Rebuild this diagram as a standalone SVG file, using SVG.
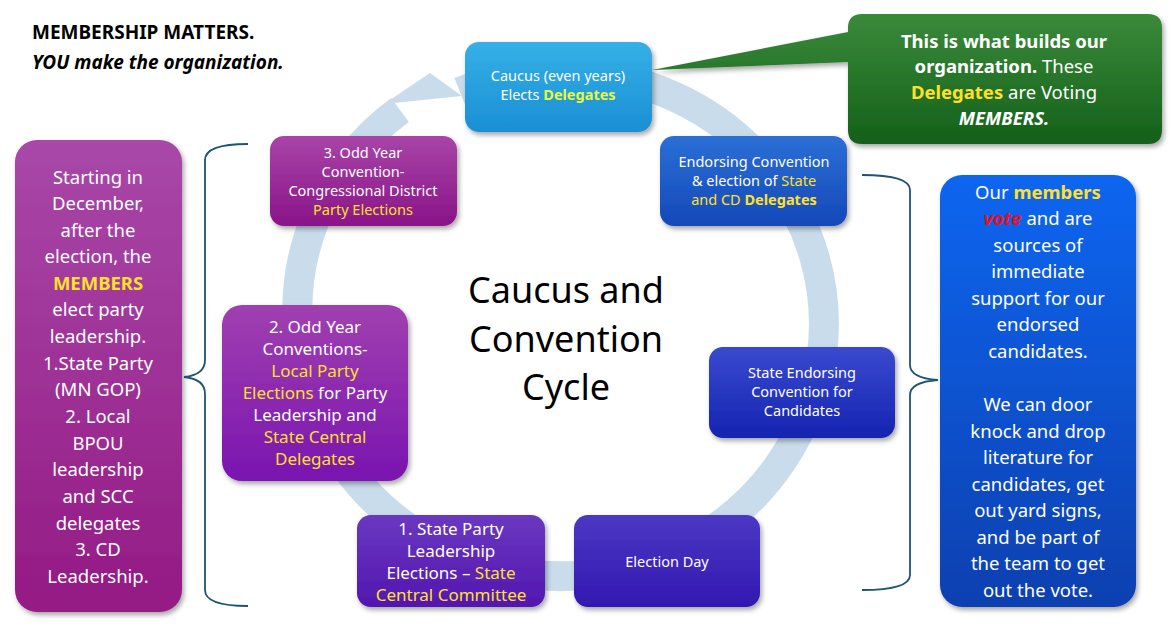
<svg xmlns="http://www.w3.org/2000/svg" width="1171" height="636" viewBox="0 0 1171 636">
<defs>
<linearGradient id="gCau" x1="0" y1="0" x2="0" y2="1"><stop offset="0" stop-color="#35b0e6"/><stop offset="1" stop-color="#1a8fd4"/></linearGradient>
<linearGradient id="gEnd" x1="0" y1="0" x2="0" y2="1"><stop offset="0" stop-color="#2b6fd6"/><stop offset="1" stop-color="#1448b8"/></linearGradient>
<linearGradient id="gSta" x1="0" y1="0" x2="0" y2="1"><stop offset="0" stop-color="#3a4ad0"/><stop offset="1" stop-color="#1424b0"/></linearGradient>
<linearGradient id="gEle" x1="0" y1="0" x2="0" y2="1"><stop offset="0" stop-color="#4a38c4"/><stop offset="1" stop-color="#3318b0"/></linearGradient>
<linearGradient id="gOne" x1="0" y1="0" x2="0" y2="1"><stop offset="0" stop-color="#6a38c0"/><stop offset="1" stop-color="#5216b0"/></linearGradient>
<linearGradient id="gTwo" x1="0" y1="0" x2="0" y2="1"><stop offset="0" stop-color="#a040b0"/><stop offset="1" stop-color="#7a14b0"/></linearGradient>
<linearGradient id="gThr" x1="0" y1="0" x2="0" y2="1"><stop offset="0" stop-color="#a844a8"/><stop offset="1" stop-color="#8a1488"/></linearGradient>
<linearGradient id="gLeft" x1="0" y1="0" x2="0" y2="1"><stop offset="0" stop-color="#a848a8"/><stop offset="1" stop-color="#941a84"/></linearGradient>
<linearGradient id="gRight" x1="0" y1="0" x2="0" y2="1"><stop offset="0" stop-color="#0a66f0"/><stop offset="1" stop-color="#1040b0"/></linearGradient>
<linearGradient id="gGreen" x1="0" y1="0" x2="0" y2="1"><stop offset="0" stop-color="#3a8a3a"/><stop offset="1" stop-color="#14601a"/></linearGradient>
<filter id="sh" x="-10%" y="-10%" width="130%" height="130%"><feDropShadow dx="2" dy="3" stdDeviation="2.5" flood-color="#000" flood-opacity="0.35"/></filter>
</defs>
<style>
text{font-family:"Noto Sans","Open Sans","Liberation Sans",sans-serif;text-anchor:middle;fill:#fff}
.s{font-size:14.5px}
.m{font-size:17px}
.l{font-size:18.5px}
.y{fill:#ffe02a}
.b{font-weight:bold}
.brace{fill:none;stroke:#1f5570;stroke-width:1.8}
</style>
<rect width="1171" height="636" fill="#fff"/>

<g id="title">
<text x="32" y="39" style="text-anchor:start;fill:#000;font-size:19px;font-weight:bold">MEMBERSHIP MATTERS.</text>
<text x="32" y="69" style="text-anchor:start;fill:#000;font-size:19px;font-weight:bold;font-style:italic">YOU make the organization.</text>
</g>

<g id="cycle">
<path d="M460,92 A262,252 0 1 1 300,330" fill="none" stroke="#c9dcec" stroke-width="30" transform="rotate(0)"/>
<path d="M300,345 A262,252 0 0 1 400,110" fill="none" stroke="#c9dcec" stroke-width="30"/>
<polygon points="380,118 458,93 425,70 470,72 480,100" fill="none"/>
<polygon points="384,104 430,73 462,96" fill="#c9dcec"/>
</g>

<g id="center">
<text x="566" y="303" style="fill:#000;font-size:36px">Caucus and</text>
<text x="566" y="352" style="fill:#000;font-size:36px">Convention</text>
<text x="566" y="400" style="fill:#000;font-size:36px">Cycle</text>
</g>

<g id="callout">
<path d="M862,14 H1148 Q1162,14 1162,28 V130 Q1162,144 1148,144 H862 Q848,144 848,130 V62 L652,70 L848,32 V28 Q848,14 862,14 Z" fill="url(#gGreen)" filter="url(#sh)"/>
<text x="1004" y="48" class="l b">This is what builds our</text>
<text x="1004" y="73" class="l"><tspan class="b">organization.</tspan>  These</text>
<text x="1004" y="99" class="l"><tspan class="b y">Delegates</tspan> are Voting</text>
<text x="1004" y="125" class="l b" font-style="italic">MEMBERS.</text>
</g>

<g id="caucus">
<rect x="465" y="42" width="187" height="90" rx="14" fill="url(#gCau)" filter="url(#sh)"/>
<text x="558" y="81" class="s">Caucus (even years)</text>
<text x="558" y="100" class="s">Elects <tspan class="b" style="fill:#e8f83a">Delegates</tspan></text>
</g>

<g id="endorsing">
<rect x="660" y="136" width="187" height="90" rx="14" fill="url(#gEnd)" filter="url(#sh)"/>
<text x="754" y="167" class="s">Endorsing Convention</text>
<text x="754" y="186" class="s">&amp; election of <tspan class="y">State</tspan></text>
<text x="754" y="205" class="s"><tspan class="y">and CD</tspan> <tspan class="b y">Delegates</tspan></text>
</g>

<g id="stateEndorsing">
<rect x="709" y="347" width="186" height="91" rx="14" fill="url(#gSta)" filter="url(#sh)"/>
<text x="802" y="378" class="s">State Endorsing</text>
<text x="802" y="397" class="s">Convention for</text>
<text x="802" y="416" class="s">Candidates</text>
</g>

<g id="electionDay">
<rect x="574" y="515" width="186" height="92" rx="14" fill="url(#gEle)" filter="url(#sh)"/>
<text x="667" y="567" class="s">Election Day</text>
</g>

<g id="stateParty">
<rect x="357" y="515" width="188" height="92" rx="14" fill="url(#gOne)" filter="url(#sh)"/>
<text x="451" y="535" class="m">1. State Party</text>
<text x="451" y="557" class="m">Leadership</text>
<text x="451" y="579" class="m">Elections – <tspan class="y">State</tspan></text>
<text x="451" y="601" class="m y">Central Committee</text>
</g>

<g id="oddYear2">
<rect x="222" y="305" width="186" height="176" rx="20" fill="url(#gTwo)" filter="url(#sh)"/>
<text x="315" y="333" class="m">2. Odd Year</text>
<text x="315" y="355" class="m">Conventions-</text>
<text x="315" y="377" class="m y">Local Party</text>
<text x="315" y="399" class="m"><tspan class="y">Elections</tspan> for Party</text>
<text x="315" y="421" class="m">Leadership and</text>
<text x="315" y="443" class="m y">State Central</text>
<text x="315" y="465" class="m y">Delegates</text>
</g>

<g id="oddYear3">
<rect x="270" y="136" width="187" height="90" rx="14" fill="url(#gThr)" filter="url(#sh)"/>
<text x="363" y="158" class="s">3. Odd Year</text>
<text x="363" y="177" class="s">Convention-</text>
<text x="363" y="196" class="s">Congressional District</text>
<text x="363" y="215" class="s y">Party Elections</text>
</g>

<g id="leftBox">
<rect x="15" y="140" width="167" height="472" rx="22" fill="url(#gLeft)" filter="url(#sh)"/>
<text x="98" y="184" class="l">Starting in</text>
<text x="98" y="210" class="l">December,</text>
<text x="98" y="237" class="l">after the</text>
<text x="98" y="263" class="l">election, the</text>
<text x="98" y="290" class="l b y">MEMBERS</text>
<text x="98" y="316" class="l">elect party</text>
<text x="98" y="343" class="l">leadership.</text>
<text x="98" y="370" class="l">1.State Party</text>
<text x="98" y="396" class="l">(MN GOP)</text>
<text x="98" y="423" class="l">2. Local</text>
<text x="98" y="450" class="l">BPOU</text>
<text x="98" y="476" class="l">leadership</text>
<text x="98" y="503" class="l">and SCC</text>
<text x="98" y="530" class="l">delegates</text>
<text x="98" y="556" class="l">3. CD</text>
<text x="98" y="583" class="l">Leadership.</text>
</g>

<g id="rightBox">
<rect x="940" y="175" width="196" height="432" rx="22" fill="url(#gRight)" filter="url(#sh)"/>
<text x="1038" y="199" class="l">Our <tspan class="b y">members</tspan></text>
<text x="1038" y="225" class="l"><tspan class="b" font-style="italic" style="fill:#e8101a">vote</tspan> and are</text>
<text x="1038" y="252" class="l">sources of</text>
<text x="1038" y="278" class="l">immediate</text>
<text x="1038" y="305" class="l">support for our</text>
<text x="1038" y="331" class="l">endorsed</text>
<text x="1038" y="358" class="l">candidates.</text>
<text x="1038" y="411" class="l">We can door</text>
<text x="1038" y="438" class="l">knock and drop</text>
<text x="1038" y="464" class="l">literature for</text>
<text x="1038" y="491" class="l">candidates, get</text>
<text x="1038" y="517" class="l">out yard signs,</text>
<text x="1038" y="544" class="l">and be part of</text>
<text x="1038" y="570" class="l">the team to get</text>
<text x="1038" y="597" class="l">out the vote.</text>
</g>

<g id="connectors">
<path class="brace" d="M248,144 Q205,144 205,160 V360 Q205,375 184,377 Q205,379 205,394 V590 Q205,606 248,606"/>
<path class="brace" d="M862,175 Q910,175 910,190 V365 Q910,378 938,380 Q910,382 910,395 V575 Q910,590 862,590"/>
</g>
</svg>
